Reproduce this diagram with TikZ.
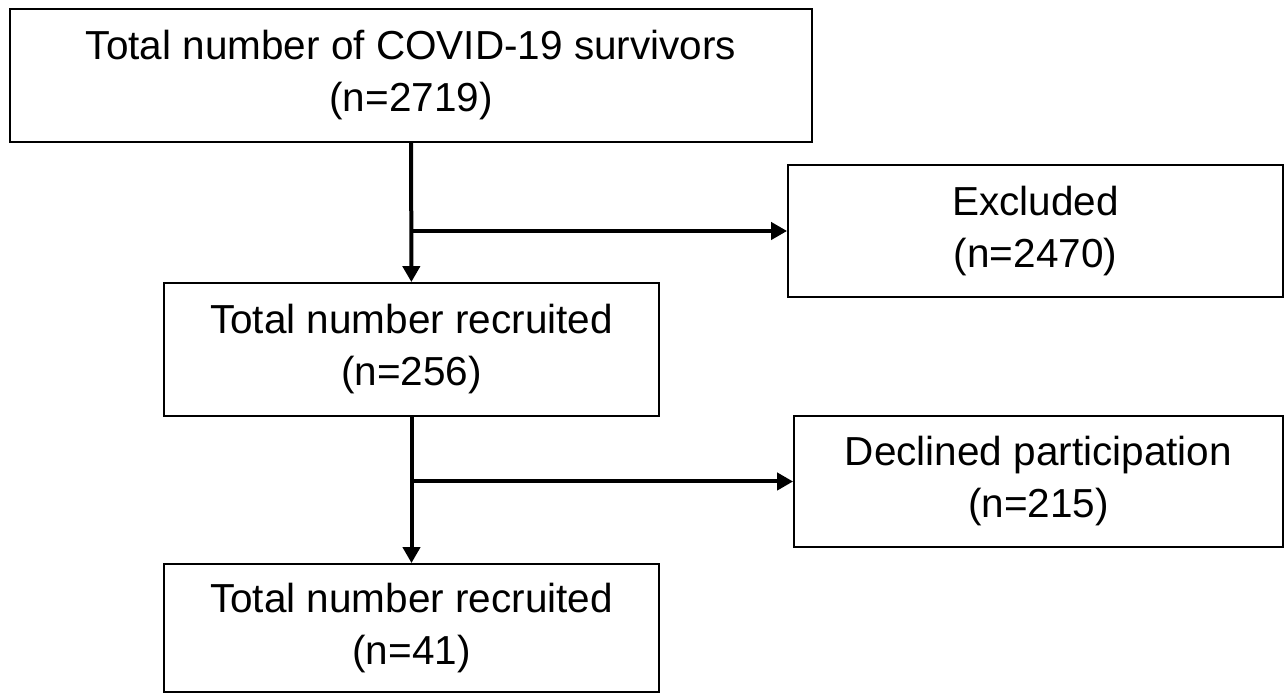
\documentclass[tikz,border=0pt]{standalone}
\usepackage{fontspec}
\setmainfont{Liberation Sans}
\usetikzlibrary{arrows.meta}
\tikzset{
	box/.style={draw, line width=0.9pt, align=center, inner sep=0pt, font=\fontsize{20.25pt}{26pt}\selectfont},
	flow/.style={line width=2pt, -{Triangle[length=8pt,width=8.5pt]}}
}
\begin{document}
\begin{tikzpicture}[x=0.5pt,y=0.5pt]
			\useasboundingbox (0,0) rectangle (1287,696);
			\node[box, minimum width=401pt, minimum height=66.5pt] (survivors) at (411,620.5) {Total number of COVID-19 survivors\\(n=2719)};
			\node[box, minimum width=247.5pt, minimum height=66pt] (excluded) at (1035.5,465) {Excluded\\(n=2470)};
			\node[box, minimum width=247.5pt, minimum height=66.5pt] (recruited) at (411.5,346.5) {Total number recruited\\(n=256)};
			\node[box, minimum width=244.5pt, minimum height=65.5pt] (declined) at (1038.5,214.5) {Declined participation\\(n=215)};
			\node[box, minimum width=247.5pt, minimum height=64pt] (final) at (411.5,68) {Total number recruited\\(n=41)};
			\draw[flow] (survivors) -- (recruited);
			\draw[flow] (survivors.south |- excluded.west) -- (excluded.west);
			\draw[flow] (recruited) -- (final);
			\draw[flow] (recruited.south |- declined.west) -- (declined.west);
		\end{tikzpicture}
\end{document}
